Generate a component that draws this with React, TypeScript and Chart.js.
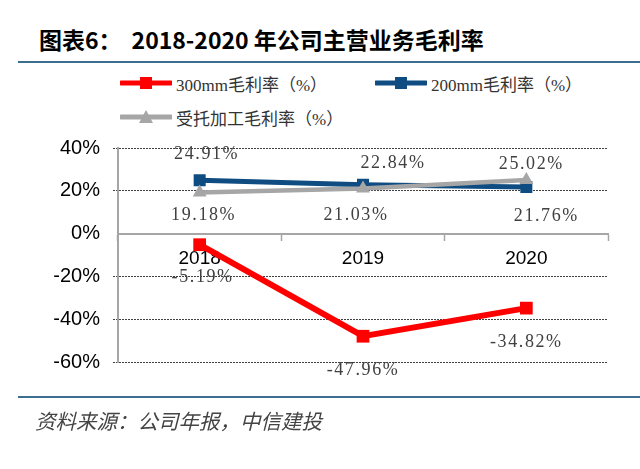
import React, { useEffect, useRef } from 'react';
import { Chart, registerables } from 'chart.js';

Chart.register(...registerables);

// ---- data ----
const CATEGORIES = ['2018', '2019', '2020'];
const MARGIN_300MM = [-5.19, -47.96, -34.82];
const MARGIN_200MM = [24.91, 22.84, 21.76];
const MARGIN_FOUNDRY = [19.18, 21.03, 25.02];
const SERIES_NAMES = ['300mm毛利率（%）', '200mm毛利率（%）', '受托加工毛利率（%）'];
const Y_MIN = -60;
const Y_MAX = 40;
const Y_STEP = 20;

const TITLE_PREFIX = '图表6：';
const TITLE_TEXT = '2018-2020 年公司主营业务毛利率';
const SOURCE_TEXT = '资料来源：公司年报，中信建投';

// ---- style ----
const RED = '#FF0000';
const BLUE = '#0F4C81';
const GRAY = '#A6A6A6';
const RULE = '#3B6E8F';
const LABEL_OFFSETS = [
  [[3, 33], [0, 34], [0, 34]],
  [[7, -26], [30, -21], [20, 29]],
  [[4, 23], [-7, 27], [5, -16]],
];

const labelPlugin = {
  id: 'valueLabels',
  afterDatasetsDraw(chart: any) {
    const ctx = chart.ctx;
    ctx.save();
    ctx.font = '18px "Liberation Serif"';
    ctx.fillStyle = '#404040';
    ctx.textAlign = 'center';
    ctx.textBaseline = 'middle';
    (ctx as any).letterSpacing = '1.6px';
    chart.data.datasets.forEach((ds: any, i: number) => {
      const meta = chart.getDatasetMeta(i);
      meta.data.forEach((el: any, j: number) => {
        const v = ds.data[j] as number;
        const [dx, dy] = LABEL_OFFSETS[i][j];
        ctx.fillText(v.toFixed(2) + '%', el.x + dx, el.y + dy);
      });
    });
    ctx.restore();
  },
};

const LEGEND_ITEMS = [
  { name: SERIES_NAMES[0], color: RED, shape: 'rect', left: 120, top: 83 },
  { name: SERIES_NAMES[1], color: BLUE, shape: 'rect', left: 375, top: 83 },
  { name: SERIES_NAMES[2], color: GRAY, shape: 'triangle', left: 120, top: 117 },
];

function LegendMarker({ color, shape }: { color: string; shape: string }) {
  return (
    <svg width={52} height={16} style={{ display: 'block' }}>
      <line x1={1} y1={8} x2={51} y2={8} stroke={color} strokeWidth={5} strokeLinecap="round" />
      {shape === 'rect' ? (
        <rect x={20} y={2} width={12} height={12} fill={color} />
      ) : (
        <polygon points="26,1 33,14 19,14" fill={color} />
      )}
    </svg>
  );
}

export default function App() {
  const canvasRef = useRef<HTMLCanvasElement | null>(null);

  useEffect(() => {
    if (!canvasRef.current) return;
    const chart = new Chart(canvasRef.current, {
      type: 'line',
      data: {
        labels: CATEGORIES,
        datasets: [
          {
            label: SERIES_NAMES[0],
            data: MARGIN_300MM,
            borderColor: RED,
            backgroundColor: RED,
            pointBackgroundColor: RED,
            pointBorderColor: RED,
            borderWidth: 6,
            pointStyle: 'rect',
            pointRadius: 9,
            pointBorderWidth: 0,
            order: 0,
          },
          {
            label: SERIES_NAMES[1],
            data: MARGIN_200MM,
            borderColor: BLUE,
            backgroundColor: BLUE,
            pointBackgroundColor: BLUE,
            pointBorderColor: BLUE,
            borderWidth: 5,
            pointStyle: 'rect',
            pointRadius: 8.5,
            pointBorderWidth: 0,
            order: 2,
          },
          {
            label: SERIES_NAMES[2],
            data: MARGIN_FOUNDRY,
            borderColor: GRAY,
            backgroundColor: GRAY,
            pointBackgroundColor: GRAY,
            pointBorderColor: GRAY,
            borderWidth: 4.5,
            pointStyle: 'triangle',
            pointRadius: 8,
            pointBorderWidth: 0,
            order: 1,
          },
        ],
      },
      options: {
        animation: false,
        responsive: true,
        maintainAspectRatio: false,
        layout: { padding: { top: 148, bottom: 107, left: 0, right: 32 } },
        plugins: {
          legend: { display: false },
          tooltip: { enabled: false },
        },
        scales: {
          x: {
            type: 'category',
            position: { y: 0 } as any,
            offset: true,
            grid: {
              offset: true,
              drawOnChartArea: false,
              drawTicks: true,
              tickLength: 6,
              tickColor: GRAY,
              tickWidth: 1.5,
            },
            border: { display: true, color: GRAY, width: 2 },
            ticks: {
              font: { family: '"Liberation Sans", Arial, sans-serif', size: 19 },
              color: '#000',
              padding: 8,
            },
            afterFit: (s: any) => {
              s.height = 0;
            },
          },
          y: {
            min: Y_MIN,
            max: Y_MAX,
            ticks: {
              stepSize: Y_STEP,
              callback: (v: any) => v + '%',
              font: { family: '"Liberation Sans", Arial, sans-serif', size: 20 },
              color: '#000',
              padding: 13,
            },
            grid: {
              color: (c: any) => (c.tick && c.tick.value === 0 ? 'rgba(0,0,0,0)' : '#404040'),
              lineWidth: 1,
              tickLength: 5,
              tickBorderDash: [2, 1],
            },
            border: { display: true, color: GRAY, width: 2, dash: [2, 1] },
            afterFit: (s: any) => {
              s.width = 118;
            },
          },
        },
      },
      plugins: [labelPlugin],
    });
    return () => chart.destroy();
  }, []);

  return (
    <div style={{ position: 'absolute', left: 0, top: 0, width: 640, height: 469, background: '#fff', overflow: 'hidden' }}>
      <div
        style={{
          position: 'absolute',
          left: 39,
          top: 22,
          fontFamily: '"Noto Sans CJK SC", sans-serif',
          fontWeight: 700,
          fontSize: 23,
          lineHeight: '34px',
          color: '#000',
          whiteSpace: 'nowrap',
        }}
      >
        <span>{TITLE_PREFIX}</span>
        <span style={{ marginLeft: 10 }}>{TITLE_TEXT}</span>
      </div>
      <div style={{ position: 'absolute', left: 18, top: 61, width: 622, height: 2, background: RULE }} />
      {LEGEND_ITEMS.map((it) => (
        <div
          key={it.name}
          style={{
            position: 'absolute',
            left: it.left,
            top: it.top - 12,
            height: 24,
            display: 'flex',
            alignItems: 'center',
            whiteSpace: 'nowrap',
          }}
        >
          <LegendMarker color={it.color} shape={it.shape} />
          <span
            style={{
              marginLeft: 4,
              fontFamily: '"Liberation Serif", "Noto Sans CJK SC", serif',
              fontSize: 17,
              color: '#333',
            }}
          >
            {it.name}
          </span>
        </div>
      ))}
      <div style={{ position: 'absolute', left: 0, top: 0, width: 640, height: 469 }}>
        <canvas ref={canvasRef} />
      </div>
      <div style={{ position: 'absolute', left: 18, top: 396, width: 622, height: 2, background: RULE }} />
      <div
        style={{
          position: 'absolute',
          left: 35,
          top: 405,
          fontFamily: '"Noto Sans CJK SC", sans-serif',
          fontStyle: 'italic',
          fontSize: 20.5,
          lineHeight: '30px',
          color: '#444',
          whiteSpace: 'nowrap',
        }}
      >
        {SOURCE_TEXT}
      </div>
    </div>
  );
}
